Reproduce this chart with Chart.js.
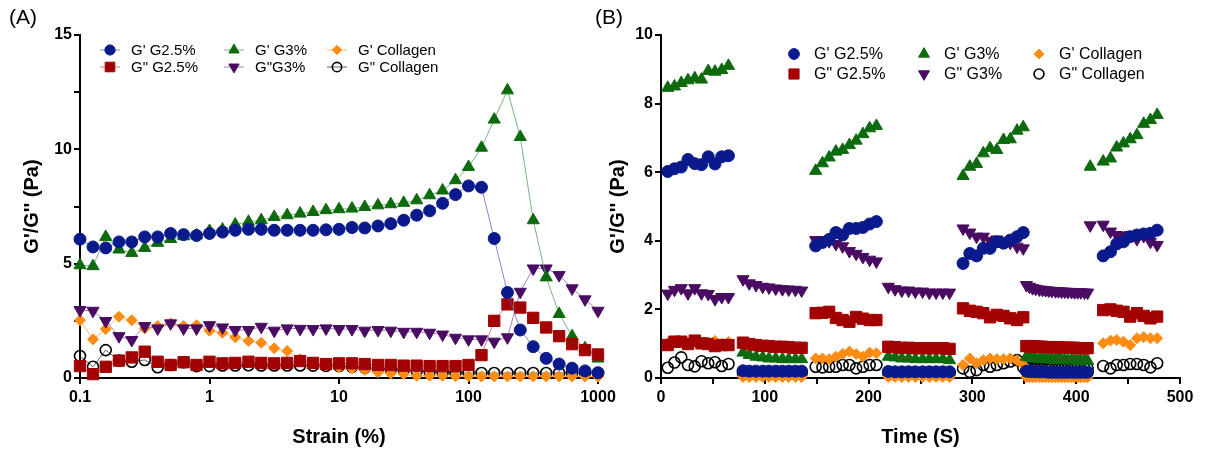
<!DOCTYPE html>
<html><head><meta charset="utf-8">
<script src="https://cdn.jsdelivr.net/npm/chart.js@4"></script>
<style>
html,body{margin:0;padding:0;background:#fff;width:1206px;height:449px;overflow:hidden}
.wrap{position:absolute;top:0;height:449px}
#wa{left:0;width:630px}
#wb{left:606px;width:600px}
.lab{position:absolute;top:5px;font:21px 'Liberation Sans',Arial,sans-serif;color:#000}
</style></head><body>
<div class="wrap" id="wa"><canvas id="ca" width="630" height="449"></canvas></div>
<div class="wrap" id="wb"><canvas id="cb" width="600" height="449"></canvas></div>
<div class="lab" style="left:9px">(A)</div>
<div class="lab" style="left:595px">(B)</div>
<script>
// ---------- Panel A data (strain sweep) ----------
const strain = [0.1,0.126,0.158,0.2,0.251,0.316,0.398,0.501,0.631,0.794,1,1.26,1.58,2,2.51,3.16,3.98,5.01,6.31,7.94,10,12.6,15.8,20,25.1,31.6,39.8,50.1,63.1,79.4,100,126,158,200,251,316,398,501,631,794,1000];
const strainTicks = [0.1,1,10,100,1000];
const strainTickLabels = ['0.1','1','10','100','1000'];
const aGpG25 = [6.07,5.73,5.69,5.95,5.95,6.17,6.17,6.32,6.27,6.23,6.32,6.38,6.46,6.5,6.5,6.46,6.46,6.46,6.46,6.48,6.5,6.58,6.56,6.65,6.75,6.9,7.12,7.31,7.64,8.02,8.4,8.34,6.1,3.74,2.1,1.37,0.86,0.61,0.43,0.31,0.23];
const aGppG25 = [0.52,0.17,0.49,0.76,0.9,1.15,0.71,0.57,0.69,0.57,0.71,0.64,0.66,0.71,0.66,0.64,0.66,0.74,0.66,0.61,0.64,0.64,0.61,0.57,0.57,0.54,0.54,0.52,0.52,0.52,0.57,1.0,2.5,3.22,3.08,2.63,2.21,1.83,1.48,1.22,1.03];
const aGpG3 = [4.93,4.89,6.17,5.62,5.47,5.69,5.91,6.08,6.2,6.24,6.43,6.49,6.71,6.83,6.9,7.04,7.12,7.19,7.26,7.34,7.38,7.41,7.48,7.55,7.6,7.66,7.77,7.99,8.2,8.65,9.23,10.07,11.3,12.58,10.54,6.9,4.4,2.8,1.83,1.3,0.85];
const aGppG3 = [2.97,2.94,2.49,1.83,1.66,2.27,2.17,2.39,2.17,2.17,2.31,2.21,2.1,2.1,2.24,2.07,2.17,2.15,2.14,2.17,2.14,2.14,2.07,2.1,2.07,2.02,2.02,1.98,1.9,1.76,1.69,1.69,1.59,1.78,3.77,4.79,4.79,4.5,3.92,3.44,2.94];
const aGpCol = [2.53,1.69,2.14,2.68,2.53,2.17,2.27,2.39,2.27,2.31,2.07,1.98,1.78,1.62,1.54,1.3,1.18,0.82,0.65,0.55,0.47,0.42,0.35,0.25,0.2,0.17,0.1,0.1,0.1,0.08,0.08,0.07,0.07,0.07,0.07,0.07,0.07,0.07,0.07,0.06,0.06];
const aGppCol = [0.96,0.49,1.22,0.76,0.71,0.79,0.47,0.57,0.69,0.52,0.52,0.55,0.55,0.56,0.55,0.55,0.55,0.55,0.54,0.53,0.52,0.49,0.45,0.42,0.38,0.35,0.32,0.28,0.25,0.23,0.22,0.22,0.22,0.22,0.22,0.22,0.22,0.22,0.22,0.22,0.22];

// ---------- Panel B data (time sweep, alternating strain) ----------
const time = [6.5,13,19.5,26,32.5,39,45.5,52,58.5,65,
  79,85,91.5,98,104,110.5,117,123,129.5,135.5,
  149,155.5,162,168.5,175,181.5,188,194.5,201,207.5,
  219,225.5,232,238.5,245,252,258.5,265,271.5,278,
  291,297.5,304,310.5,317,323.5,330,336.5,343,349,
  352,355,358,361,364.5,367.5,370.5,373.5,376.5,380,383,386,389,392,395.5,398.5,401.5,404.5,408,411,
  413.5,426,433,439,445.5,452,458.5,465,471.5,478];
const bGpG25 = [6.02,6.1,6.15,6.37,6.25,6.22,6.45,6.24,6.45,6.48,
  0.21,0.2,0.2,0.2,0.2,0.2,0.2,0.2,0.2,0.2,
  3.85,3.95,4.04,4.24,4.17,4.36,4.36,4.39,4.49,4.56,
  0.19,0.18,0.18,0.18,0.18,0.18,0.18,0.18,0.18,0.18,
  3.34,3.63,3.56,3.78,3.78,3.97,3.93,4.02,4.12,4.24,
  0.2,0.19,0.19,0.18,0.18,0.18,0.18,0.17,0.17,0.17,0.17,0.17,0.17,0.17,0.17,0.17,0.17,0.17,0.17,0.17,
  null,3.56,3.68,3.91,3.97,4.12,4.17,4.2,4.22,4.31];
const bGppG25 = [0.96,1.06,1.06,0.99,1.09,1.01,0.99,0.93,0.96,0.96,
  1.03,0.99,0.96,0.94,0.93,0.91,0.91,0.9,0.88,0.88,
  1.89,1.9,1.93,1.75,1.69,1.64,1.78,1.73,1.69,1.69,
  0.91,0.9,0.88,0.88,0.87,0.87,0.87,0.87,0.87,0.85,
  2.03,1.96,1.93,1.89,1.77,1.84,1.81,1.74,1.69,1.77,
  0.93,0.93,0.92,0.92,0.91,0.91,0.9,0.9,0.9,0.89,0.89,0.89,0.88,0.88,0.88,0.88,0.87,0.87,0.87,0.87,
  null,1.98,2.0,1.96,1.93,1.79,1.89,1.81,1.74,1.79];
const bGpG3 = [8.46,8.5,8.6,8.68,8.74,8.7,8.95,8.93,8.98,9.1,
  0.74,0.67,0.62,0.6,0.57,0.57,0.55,0.55,0.55,0.55,
  6.04,6.26,6.43,6.6,6.65,6.79,6.92,7.11,7.28,7.35,
  0.62,0.6,0.57,0.57,0.55,0.55,0.55,0.55,0.55,0.52,
  5.89,6.16,6.24,6.55,6.7,6.65,6.94,6.96,7.21,7.31,
  0.62,0.6,0.58,0.57,0.56,0.55,0.55,0.54,0.54,0.53,0.53,0.53,0.52,0.52,0.52,0.51,0.51,0.51,0.5,0.5,
  6.16,6.31,6.4,6.72,6.84,6.96,7.08,7.41,7.52,7.67];
const bGppG3 = [2.46,2.57,2.62,2.47,2.62,2.47,2.45,2.3,2.36,2.36,
  2.88,2.76,2.71,2.66,2.64,2.61,2.59,2.58,2.57,2.55,
  4.02,4.02,3.99,3.91,3.84,3.7,3.62,3.53,3.45,3.4,
  2.66,2.59,2.55,2.55,2.52,2.52,2.49,2.49,2.49,2.49,
  4.36,4.24,4.12,4.12,4.0,4.04,3.97,3.94,3.83,3.78,
  2.71,2.66,2.62,2.6,2.58,2.57,2.56,2.55,2.54,2.53,2.53,2.52,2.52,2.51,2.51,2.5,2.5,2.5,2.49,2.49,
  4.45,4.47,4.27,4.17,4.14,4.17,4.05,4.14,3.97,3.88];
const bGpCol = [1.02,1.04,1.06,1.0,1.05,1.02,1.04,1.08,1.0,1.05,
  0.03,0.03,0.03,0.03,0.03,0.03,0.03,0.03,0.03,0.03,
  0.57,0.57,0.55,0.62,0.7,0.77,0.7,0.62,0.74,0.72,
  0.03,0.03,0.03,0.03,0.03,0.03,0.03,0.03,0.03,0.03,
  0.38,0.57,0.43,0.52,0.57,0.55,0.55,0.57,0.52,0.38,
  0.02,0.02,0.02,0.02,0.02,0.02,0.02,0.02,0.02,0.02,0.02,0.02,0.02,0.02,0.02,0.02,0.02,0.02,0.02,0.02,
  null,1.01,1.09,1.11,1.06,0.96,1.16,1.19,1.16,1.16];
const bGppCol = [0.3,0.45,0.6,0.38,0.34,0.49,0.43,0.46,0.35,0.41,
  0.14,0.14,0.14,0.14,0.14,0.14,0.14,0.14,0.14,0.14,
  0.33,0.31,0.33,0.33,0.38,0.38,0.28,0.33,0.38,0.38,
  0.14,0.14,0.14,0.14,0.14,0.14,0.14,0.14,0.14,0.14,
  0.28,0.18,0.23,0.38,0.33,0.38,0.43,0.48,0.52,0.31,
  0.28,0.28,0.28,0.28,0.28,0.28,0.28,0.28,0.28,0.28,0.28,0.28,0.28,0.28,0.28,0.28,0.28,0.28,0.28,0.28,
  null,0.35,0.28,0.38,0.38,0.41,0.41,0.38,0.31,0.43];

const labelsA = ["G' G2.5%", "G\" G2.5%", "G' G3%", "G\"G3%", "G' Collagen", "G\" Collagen"];
const labelsB = ["G' G2.5%", "G\" G2.5%", "G' G3%", "G\" G3%", "G' Collagen", "G\" Collagen"];

// ---------- styles ----------
const styles = [
  {c:'#0a1a8c', line:'rgba(90,95,190,0.75)', ps:'circle', r:6, rot:0, fill:true},
  {c:'#a30202', line:'rgba(200,80,80,0.75)', ps:'rect', r:8, rot:0, fill:true},
  {c:'#0e6a0e', line:'rgba(90,160,90,0.8)', ps:'triangle', r:7, rot:0, fill:true},
  {c:'#4a0c62', line:'rgba(140,100,160,0.8)', ps:'triangle', r:7, rot:180, fill:true},
  {c:'#ff8c12', line:'rgba(255,170,80,0.85)', ps:'rectRot', r:5.5, rot:0, fill:true},
  {c:'#000000', line:'rgba(60,60,60,0.8)', ps:'circle', r:5.5, rot:0, fill:false}
];
const FONT = "'Liberation Sans', Arial, sans-serif";

function drawMarker(ctx, st, x, y, scale){
  const opt = {pointStyle: st.ps, radius: st.r*scale, rotation: st.rot, borderWidth: st.fill?1:1.6};
  ctx.fillStyle = st.fill ? st.c : 'rgba(0,0,0,0)';
  ctx.strokeStyle = st.c;
  ctx.lineWidth = opt.borderWidth;
  if (Chart.helpers && Chart.helpers.drawPoint) {
    Chart.helpers.drawPoint(ctx, opt, x, y);
  } else {
    ctx.beginPath(); ctx.arc(x, y, opt.radius, 0, Math.PI*2);
    if (st.fill) ctx.fill(); ctx.stroke();
  }
}

const legendPlugin = {
  id: 'gridLegend',
  afterDraw(chart, args, o){
    if (!o || !o.cols) return;
    const ctx = chart.ctx; ctx.save();
    ctx.font = o.font; ctx.textBaseline = 'middle'; ctx.textAlign='left';
    o.labels.forEach((lab, i) => {
      const col = Math.floor(i/2), row = i%2;
      const mx = o.cols[col], my = o.rows[row];
      const st = styles[i];
      if (o.line) {
        ctx.strokeStyle = st.line; ctx.lineWidth = 1;
        ctx.beginPath(); ctx.moveTo(mx-10, my); ctx.lineTo(mx+10, my); ctx.stroke();
      }
      drawMarker(ctx, st, mx, my, o.scale);
      ctx.fillStyle = '#000';
      ctx.fillText(lab, mx + o.gap, my + 1);
    });
    ctx.restore();
  }
};

function mkData(xs, ys){ return xs.map((x,i)=>({x:x, y:ys[i]})); }

function dsets(xs, arrs, labels, lines){
  return arrs.map((arr, i) => {
    const st = styles[i];
    return {
      label: labels[i], data: mkData(xs, arr),
      showLine: lines, borderColor: st.line, borderWidth: 1, spanGaps: false,
      pointStyle: st.ps, pointRadius: st.r, pointRotation: st.rot,
      pointBackgroundColor: st.fill ? st.c : 'rgba(0,0,0,0)',
      pointBorderColor: st.c, pointBorderWidth: st.fill ? 1 : 1.6,
      pointHoverRadius: st.r, clip: false, tension: 0
    };
  });
}

const tickFont = {family: FONT, size: 16, weight: 'bold'};
const titleFont = {family: FONT, size: 20, weight: 'bold'};
const gridOpt = {display: true, drawOnChartArea: false, drawTicks: true, tickLength: 6, color: '#000', lineWidth: 2};
const borderOpt = {display: true, color: '#000', width: 2};

new Chart(document.getElementById('ca'), {
  type: 'line',
  data: {datasets: dsets(strain, [aGpG25, aGppG25, aGpG3, aGppG3, aGpCol, aGppCol], labelsA, true)},
  options: {
    responsive: false, animation: false, devicePixelRatio: 1,
    layout: {padding: {left: 0, right: 32, top: 35, bottom: 0}},
    plugins: {
      legend: {display: false}, tooltip: {enabled: false},
      gridLegend: {labels: labelsA, cols: [110, 234, 337], rows: [50, 67], gap: 21, scale: 0.85, line: true,
                   font: "15px " + FONT}
    },
    scales: {
      x: {type: 'logarithmic', min: 0.1, max: 1000,
          afterBuildTicks: s => { s.ticks = strainTicks.map(v => ({value: v})); },
          afterFit: s => { s.height = 71; s.paddingLeft = 0; s.paddingRight = 0; },
          ticks: {callback: (v, i) => strainTickLabels[i], font: tickFont, color: '#000', padding: 4, maxRotation: 0, autoSkip: false},
          grid: gridOpt, border: borderOpt,
          title: {display: true, text: 'Strain (%)', font: titleFont, color: '#000', padding: {top: 0, bottom: 0}}},
      y: {min: 0, max: 15,
          afterFit: s => { s.width = 80; },
          ticks: {stepSize: 2.5, callback: v => (v % 5 === 0 ? v : ''), font: tickFont, color: '#000', padding: 2},
          grid: gridOpt, border: borderOpt,
          title: {display: true, text: "G'/G'' (Pa)", font: titleFont, color: '#000', padding: {top: 20, bottom: 0}}}
    }
  },
  plugins: [legendPlugin]
});

new Chart(document.getElementById('cb'), {
  type: 'scatter',
  data: {datasets: dsets(time, [bGpG25, bGppG25, bGpG3, bGppG3, bGpCol, bGppCol], labelsB, false)},
  options: {
    responsive: false, animation: false, devicePixelRatio: 1,
    layout: {padding: {left: 0, right: 26, top: 35, bottom: 0}},
    plugins: {
      legend: {display: false}, tooltip: {enabled: false},
      gridLegend: {labels: labelsB, cols: [794-606, 924-606, 1039-606], rows: [54, 74], gap: 20, scale: 0.9, line: false,
                   font: "16px " + FONT}
    },
    scales: {
      x: {type: 'linear', min: 0, max: 500,
          afterFit: s => { s.height = 71; },
          ticks: {stepSize: 50, callback: v => (v % 100 === 0 ? v : ''), font: tickFont, color: '#000', padding: 4, maxRotation: 0, autoSkip: false},
          grid: gridOpt, border: borderOpt,
          title: {display: true, text: 'Time (S)', font: titleFont, color: '#000', padding: {top: 0, bottom: 0}}},
      y: {min: 0, max: 10,
          afterFit: s => { s.width = 55; },
          ticks: {stepSize: 2, font: tickFont, color: '#000', padding: 2},
          grid: gridOpt, border: borderOpt,
          title: {display: true, text: "G'/G'' (Pa)", font: titleFont, color: '#000', padding: {top: 0, bottom: 0}}}
    }
  },
  plugins: [legendPlugin]
});
</script>
</body></html>
